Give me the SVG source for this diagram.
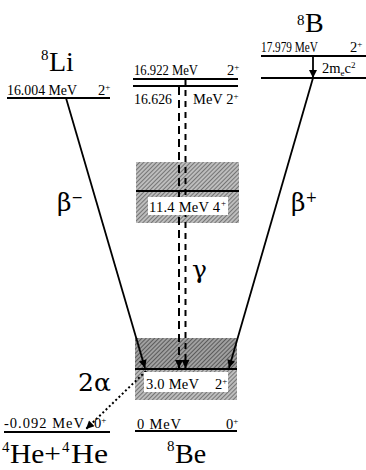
<svg xmlns="http://www.w3.org/2000/svg" width="366" height="470" viewBox="0 0 366 470">
  <style>
    text { font-family: "Liberation Serif", "DejaVu Serif", "Times New Roman", serif; fill: #000; }
    .lv { font-size: 14.5px; }
    .big { font-size: 28px; }
    .sup { font-size: 15px; }
    .greek { font-size: 25px; font-family: "DejaVu Serif", "Liberation Serif", serif; }
    .level { stroke: #000; stroke-width: 2; fill: none; }
    .beta { stroke: #000; stroke-width: 1.8; fill: none; }
    .gam1 { stroke: #000; stroke-width: 2; stroke-dasharray: 8 5; fill: none; }
    .gam2 { stroke: #000; stroke-width: 2; stroke-dasharray: 6 5; fill: none; }
    .alpha { stroke: #000; stroke-width: 2; stroke-dasharray: 2 2.5; fill: none; }
    .lbl { fill: #fff; }
  </style>
  <defs>
    <pattern id="hatch" width="3" height="3" patternUnits="userSpaceOnUse" patternTransform="rotate(45)">
      <rect width="3" height="3" fill="#bdbdbd"/>
      <line x1="0" y1="0" x2="0" y2="3" stroke="#4d4d4d" stroke-width="1.3"/>
    </pattern>
    <pattern id="hatchDark" width="3" height="3" patternUnits="userSpaceOnUse" patternTransform="rotate(45)">
      <rect width="3" height="3" fill="#a0a0a0"/>
      <line x1="0" y1="0" x2="0" y2="3" stroke="#444" stroke-width="1.5"/>
    </pattern>
    <marker id="arr" viewBox="0 0 10 10" refX="10" refY="5" markerWidth="10" markerHeight="8" markerUnits="userSpaceOnUse" orient="auto">
      <path d="M0,0 L10,5 L0,10 z" fill="#000"/>
    </marker>
  </defs>

  <!-- 8Li parent -->
  <g id="li8">
    <text x="41" y="60" class="sup">8</text>
    <text x="49" y="71" class="big">Li</text>
    <text x="7" y="95" class="lv" textLength="70" lengthAdjust="spacingAndGlyphs">16.004 MeV</text>
    <text x="98" y="95" class="lv">2<tspan font-size="9" dy="-5">+</tspan></text>
    <line x1="7" y1="98" x2="110" y2="98" class="level"/>
  </g>

  <!-- 8B parent -->
  <g id="b8">
    <text x="297" y="25" class="sup">8</text>
    <text x="305" y="32" class="big">B</text>
    <text x="261" y="52" class="lv" textLength="57" lengthAdjust="spacingAndGlyphs">17.979 MeV</text>
    <text x="350" y="52" class="lv">2<tspan font-size="9" dy="-5">+</tspan></text>
    <line x1="261" y1="56" x2="366" y2="56" class="level"/>
    <text x="322" y="73" class="lv">2m<tspan font-size="9" dy="3">e</tspan><tspan dy="-3">c</tspan><tspan font-size="9" dy="-5">2</tspan></text>
    <line x1="261" y1="78" x2="366" y2="78" class="level"/>
  </g>

  <!-- 8Be 16.922 / 16.626 doublet -->
  <g id="be8-doublet">
    <text x="134" y="75" class="lv" textLength="64" lengthAdjust="spacingAndGlyphs">16.922 MeV</text>
    <text x="227" y="75" class="lv">2<tspan font-size="9" dy="-5">+</tspan></text>
    <line x1="133" y1="79" x2="238" y2="79" class="level"/>
    <line x1="133" y1="86" x2="238" y2="86" class="level"/>
    <text x="134" y="104" class="lv" textLength="38" lengthAdjust="spacingAndGlyphs">16.626</text>
    <text x="193" y="104" class="lv">MeV 2<tspan font-size="9" dy="-5">+</tspan></text>
  </g>

  <!-- 8Be 11.4 MeV broad state -->
  <g id="be8-11">
    <rect x="136" y="162" width="103" height="61" fill="url(#hatch)"/>
    <line x1="136" y1="191" x2="239" y2="191" class="level"/>
  </g>

  <!-- 8Be 3.0 MeV broad state -->
  <g id="be8-3">
    <rect x="135" y="338" width="102" height="31" fill="url(#hatchDark)"/>
    <rect x="135" y="369" width="102" height="31" fill="url(#hatch)"/>
  </g>

  <!-- 8Be ground state -->
  <g id="be8-gs">
    <text x="137" y="429" class="lv" textLength="44">0 MeV</text>
    <text x="226" y="429" class="lv">0<tspan font-size="9" dy="-5">+</tspan></text>
    <line x1="135" y1="431" x2="237" y2="431" class="level"/>
    <text x="167" y="451" class="sup">8</text>
    <text x="175" y="463" class="big">Be</text>
  </g>

  <!-- 4He+4He threshold -->
  <g id="he4he4">
    <text x="4" y="428" class="lv" textLength="80">-0.092 MeV</text>
    <text x="94" y="428" class="lv">0<tspan font-size="9" dy="-5">+</tspan></text>
    <line x1="4" y1="432" x2="110" y2="432" class="level"/>
    <text x="2" y="452" class="sup">4</text>
    <text x="10" y="463" class="big" textLength="51" lengthAdjust="spacingAndGlyphs">He+</text>
    <text x="62" y="452" class="sup">4</text>
    <text x="71" y="463" class="big" textLength="37" lengthAdjust="spacingAndGlyphs">He</text>
  </g>

  <!-- transitions -->
  <g id="connectors">
    <line x1="66" y1="98" x2="145" y2="368" class="beta" marker-end="url(#arr)"/>
    <line x1="313" y1="78" x2="229" y2="368" class="beta" marker-end="url(#arr)"/>
    <line x1="313" y1="56" x2="313" y2="78" class="beta" marker-end="url(#arr)"/>
    <line x1="179" y1="87" x2="179" y2="368" class="gam1" marker-end="url(#arr)"/>
    <line x1="185.5" y1="79" x2="185.5" y2="368" class="gam2" marker-end="url(#arr)"/>
    <line x1="146" y1="371" x2="86" y2="429" class="alpha" marker-end="url(#arr)"/>
  </g>

  <!-- labels drawn over the hatched states -->
  <g id="be8-11-label">
    <rect x="148" y="197" width="80" height="18" class="lbl"/>
    <text x="149" y="212" class="lv" textLength="71">11.4 MeV 4</text>
    <text x="221" y="206" font-size="9">+</text>
  </g>
  <g id="be8-3-label">
    <line x1="135" y1="369" x2="237" y2="369" class="level"/>
    <rect x="144" y="372" width="84" height="20" class="lbl"/>
    <text x="146" y="389" class="lv" textLength="53">3.0 MeV</text>
    <text x="215" y="389" class="lv">2<tspan font-size="9" dy="-5">+</tspan></text>
  </g>

  <!-- transition labels -->
  <text x="57" y="211" class="greek">β<tspan font-size="14" dy="-9">−</tspan></text>
  <text x="291" y="211" class="greek">β<tspan font-size="14" dy="-9">+</tspan></text>
  <text x="192" y="278" class="greek">γ</text>
  <text x="78" y="391" class="greek">2α</text>
</svg>
